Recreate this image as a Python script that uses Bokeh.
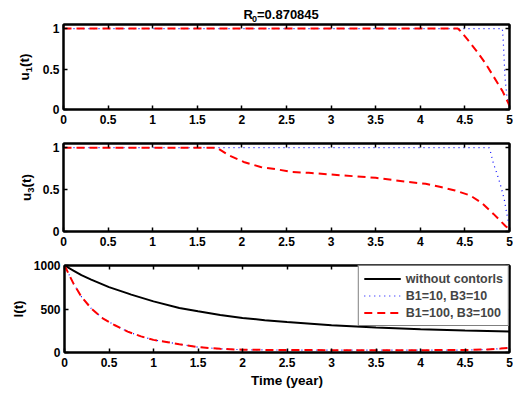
from bokeh.plotting import figure
from bokeh.layouts import column, row
from bokeh.models import Range1d, FixedTicker, LinearAxis, Label
from bokeh.embed import file_html
from bokeh.resources import INLINE
import math

FONT = "Liberation Sans"

# ---------------- data ----------------
title_parts = ["R", "0", "=0.870845"]          # R_0=0.870845
x_label = "Time (year)"
y_label_parts = [["u", "1", "(t)"], ["u", "3", "(t)"], ["I(t)"]]
legend_labels = ["without contorls", "B1=10, B3=10", "B1=100, B3=100"]

x_ticks = [0, 0.5, 1, 1.5, 2, 2.5, 3, 3.5, 4, 4.5, 5]
x_tick_labels = ["0", "0.5", "1", "1.5", "2", "2.5", "3", "3.5", "4", "4.5", "5"]
u_ticks = [0, 0.5, 1]
u_tick_labels = ["0", "0.5", "1"]
i_ticks = [0, 500, 1000]
i_tick_labels = ["0", "500", "1000"]

# u1(t)
t_u1_b10 = [0, 4.92, 4.93, 4.95, 4.97, 4.99, 5.0]
u1_b10 = [1, 1, 0.85, 0.39, 0.17, 0.05, 0.03]
t_u1_b100 = [0, 4.42, 4.45, 4.54, 4.64, 4.73, 4.82, 4.92, 5.0]
u1_b100 = [1, 1, 0.97, 0.85, 0.71, 0.57, 0.41, 0.23, 0.05]

# u3(t)
t_u3_b10 = [0, 4.77, 4.79, 4.82, 4.86, 4.90, 4.94, 4.97, 5.0]
u3_b10 = [1, 1, 0.94, 0.81, 0.69, 0.55, 0.39, 0.21, 0.05]
t_u3_b100 = [0, 1.72, 1.85, 2.02, 2.21, 2.40, 2.56, 2.75, 3.0, 3.5, 3.87,
             4.06, 4.23, 4.39, 4.56, 4.69, 4.82, 4.96, 5.0]
u3_b100 = [1, 1, 0.91, 0.83, 0.77, 0.74, 0.71, 0.70, 0.68, 0.64, 0.59,
           0.57, 0.53, 0.49, 0.43, 0.34, 0.21, 0.06, 0.03]

# I(t)
t_I0 = [0, 0.1, 0.19, 0.3, 0.5, 0.71, 0.75, 1.0, 1.29, 1.5, 1.75, 2.0, 2.25,
        2.5, 3.0, 3.5, 4.0, 4.5, 5.0]
I_none = [1000, 942, 889, 838, 752, 679, 665, 588, 512, 473, 432, 397, 372,
          351, 313, 286, 267, 252, 240]
t_I = [0, 0.1, 0.19, 0.3, 0.43, 0.56, 0.71, 0.86, 1.0, 1.16, 1.29, 1.5,
       1.75, 2.0, 2.5, 3.0, 3.5, 4.0, 4.5, 4.75, 4.9, 5.0]
I_b10 = [1000, 794, 641, 507, 393, 316, 240, 185, 145, 118, 95, 62,
         42, 32, 28, 27, 27, 27, 28, 35, 45, 55]
I_b100 = [1000, 794, 641, 507, 393, 316, 240, 185, 145, 118, 95, 62,
          42, 32, 28, 27, 27, 27, 28, 35, 45, 55]

# ---------------- helpers ----------------
def make_fig(width, height, left, top, bottom, yr, yticks, ylabs, xlabel=None):
    p = figure(width=width, height=height, x_range=Range1d(0, 5), y_range=Range1d(*yr),
               output_backend="svg", toolbar_location=None,
               min_border_left=left, min_border_right=4,
               min_border_top=top, min_border_bottom=bottom)
    p.grid.visible = False
    p.outline_line_color = "black"
    p.outline_line_width = 2
    p.background_fill_color = "white"
    p.border_fill_color = "white"
    for ax in (p.xaxis[0], p.yaxis[0]):
        ax.major_tick_in = 4
        ax.major_tick_out = 0
        ax.minor_tick_line_color = None
        ax.axis_line_width = 2
        ax.major_tick_line_width = 1.5
        ax.major_label_text_font = FONT
        ax.major_label_text_font_size = "12px"
        ax.major_label_text_font_style = "bold"
        ax.major_label_text_color = "black"
        ax.axis_label_text_font = FONT
        ax.axis_label_text_font_size = "13.5px"
        ax.axis_label_text_font_style = "bold"
        ax.axis_label_text_color = "black"
    p.xaxis.ticker = FixedTicker(ticks=x_ticks)
    p.xaxis.major_label_overrides = dict(zip(x_ticks, x_tick_labels))
    p.xaxis.major_label_standoff = 5
    p.yaxis.ticker = FixedTicker(ticks=yticks)
    p.yaxis.major_label_overrides = dict(zip(yticks, ylabs))
    p.yaxis.major_label_standoff = 4
    if xlabel:
        p.xaxis.axis_label = xlabel
        p.xaxis.axis_label_standoff = 3
    # ticks on the top and right sides as well (box)
    for loc, tks in (("above", x_ticks), ("right", yticks)):
        ax = LinearAxis(ticker=FixedTicker(ticks=tks), major_tick_in=4, major_tick_out=0,
                        major_label_text_font_size="0px", major_label_text_alpha=0,
                        major_label_standoff=0, minor_tick_line_color=None,
                        axis_line_width=2, major_tick_line_width=1.5)
        p.add_layout(ax, loc)
    return p


def text_fig(width, height, top=0, bottom=0):
    f = figure(width=width, height=height, x_range=Range1d(0, 1), y_range=Range1d(0, 1),
               x_axis_type=None, y_axis_type=None, output_backend="svg",
               toolbar_location=None, min_border_left=0, min_border_right=0,
               min_border_top=top, min_border_bottom=bottom)
    f.outline_line_color = None
    f.grid.visible = False
    f.background_fill_color = "white"
    f.border_fill_color = "white"
    return f


def txt(p, x, y, s, size, angle=0.0, align="left", baseline="alphabetic"):
    p.add_layout(Label(x=x, y=y, x_units="screen", y_units="screen", text=s,
                       angle=angle, text_align=align, text_baseline=baseline,
                       text_font=FONT, text_font_size=size, text_font_style="bold",
                       text_color="black"))


def ylabel_sub(f, centre, base_x, parts):
    # rotated "u_k(t)" centred at `centre` (frame pixels from the bottom);
    # base_x is the baseline position, anchors use the text's middle line
    main, sub, rest = parts
    a = math.pi / 2
    start = centre - 13.5
    txt(f, base_x - 4.7, start, main, "13.5px", a, "left", "middle")
    txt(f, base_x + 3 - 3.3, start + 8.25, sub, "9.5px", a, "left", "middle")
    txt(f, base_x - 4.7, start + 8.25 + 5.3, rest, "13.5px", a, "left", "middle")


# title strip: R_0=0.870845
ft = text_fig(513, 23)
txt(ft, 243, 9.5, title_parts[0], "13px")
txt(ft, 251.5, 5, title_parts[1], "9px")
txt(ft, 256.5, 9.5, title_parts[2], "13px")

# panel 1: u1(t)   (frame 85 px high)
f1 = text_fig(36, 108, 1, 22)
ylabel_sub(f1, 42.5, 28.5, y_label_parts[0])
p1 = make_fig(477, 108, 27, 1, 22, (0, 1.05), u_ticks, u_tick_labels)
p1.line(t_u1_b10, u1_b10, line_color="blue", line_width=1.2, line_dash="1 4")
p1.line(t_u1_b100, u1_b100, line_color="red", line_width=2, line_dash="8 5")

# panel 2: u3(t)   (frame 88 px high)
f2 = text_fig(36, 122, 12, 22)
ylabel_sub(f2, 44, 30.5, y_label_parts[1])
p2 = make_fig(477, 122, 27, 12, 22, (0, 1.05), u_ticks, u_tick_labels)
p2.line(t_u3_b10, u3_b10, line_color="blue", line_width=1.2, line_dash="1 4")
p2.line(t_u3_b100, u3_b100, line_color="red", line_width=2, line_dash="8 5")

# panel 3: I(t)   (frame 87 px high)
f3 = text_fig(30, 141, 12, 42)
txt(f3, 22.5 - 4.7, 43.5, y_label_parts[2][0], "13.5px", math.pi / 2, "center", "middle")
p3 = make_fig(483, 141, 33, 12, 42, (0, 1000), i_ticks, i_tick_labels, xlabel=x_label)
p3.line(t_I0, I_none, line_color="black", line_width=2, legend_label=legend_labels[0])
p3.line(t_I, I_b10, line_color="blue", line_width=1.2, line_dash="1 4", legend_label=legend_labels[1])
p3.line(t_I, I_b100, line_color="red", line_width=2, line_dash="8 5", legend_label=legend_labels[2])

lg = p3.legend[0]
lg.location = "top_right"
lg.margin = 0
lg.padding = 5
lg.spacing = 2
lg.label_height = 15
lg.glyph_height = 15
lg.glyph_width = 37
lg.label_standoff = 5
lg.label_text_font = FONT
lg.label_text_font_size = "12.5px"
lg.label_text_font_style = "bold"
lg.border_line_color = "black"
lg.border_line_width = 1.5
lg.background_fill_alpha = 1

layout = column(ft, row(f1, p1, spacing=0), row(f2, p2, spacing=0),
                row(f3, p3, spacing=0), spacing=0)
open("out.html", "w").write(file_html(layout, INLINE))
